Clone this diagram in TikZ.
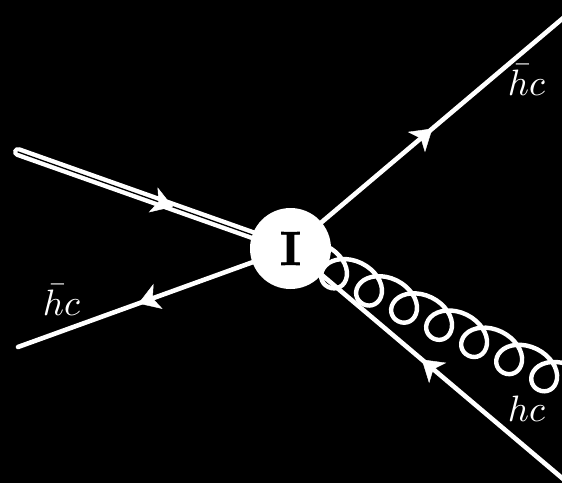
\documentclass[tikz,border=0pt]{standalone}
\usepackage{fontspec}
\newfontfamily\blobfont[FakeBold=1.6]{Latin Modern Roman}
\usetikzlibrary{arrows.meta,decorations.markings,decorations.pathmorphing}
\begin{document}
\begin{tikzpicture}[x=1pt,y=-1pt,
  fermion/.style={white, line width=4.6pt, line cap=round},
  dbl/.style={white, line width=4.4pt, double=black, double distance=1.3pt, line cap=round},
  gluon/.style={white, line width=4.4pt, decorate,
    decoration={coil, amplitude=18pt, segment length=39pt, aspect=1.2}},
  arrowmark/.style={white, line width=1pt, decorate,
    decoration={markings, mark=at position #1 with
      {\arrow{Stealth[length=22pt,width=28pt,inset=6pt,color=white]}}}},
  blob/.style={circle, fill=white, minimum size=81pt, inner sep=0pt},
  lbl/.style={white, anchor=base}]
\fill[black] (0,0) rectangle (562,483);
\useasboundingbox (0,0) rectangle (562,483);
\coordinate (vc) at (290.5,248.5);
\coordinate (a1) at (18,152);
\coordinate (a2) at (18,347);
\coordinate (a3) at (575,8);
\coordinate (a4) at (575,489);
\coordinate (g) at (700,449);
% lines
\draw[dbl] (a1) -- (vc);
\draw[fermion] (vc) -- (a2);
\draw[fermion] (vc) -- (a3);
\draw[fermion] (a4) -- (vc);
\draw[gluon] (vc) -- (g);
% arrows
\path[arrowmark=0.57] (a1) -- (vc);
\path[arrowmark=0.56] (vc) -- (a2);
\path[arrowmark=0.50] (vc) -- (a3);
\path[arrowmark=0.54] (a4) -- (vc);
% vertex
\node[blob] (v) at (vc) {\scalebox{4.8}{\blobfont\bfseries I}};
% labels
\node[lbl] (l1) at (526.5,95) {\scalebox{3.67}{$\skew{4}{\bar}{h}c$}};
\node[lbl] (l2) at (61.5,315) {\scalebox{3.67}{$\skew{4}{\bar}{h}c$}};
\node[lbl] (l3) at (526.5,421) {\scalebox{3.67}{$hc$}};
\end{tikzpicture}
\end{document}
